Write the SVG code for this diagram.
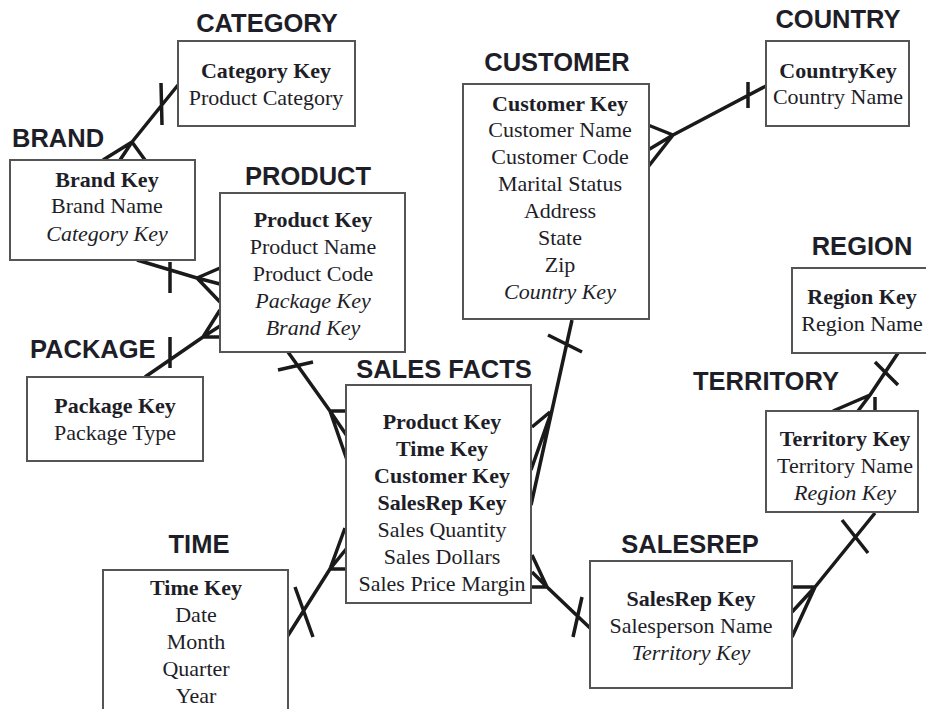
<svg xmlns="http://www.w3.org/2000/svg" width="926" height="709" viewBox="0 0 926 709">
<style>
.box{fill:#fff;stroke:#555;stroke-width:2}
.t{font-family:"Liberation Serif","Times New Roman",serif;font-size:22px;fill:#1e1e28;text-anchor:middle}
.b{font-weight:bold}
.i{font-style:italic}
.h{font-family:"Liberation Sans",Arial,sans-serif;font-size:25.5px;font-weight:bold;fill:#1e1e28}
.c{text-anchor:middle}
.ln{stroke:#1a1a1a;stroke-width:3.5;fill:none;stroke-linecap:butt}
</style>
<rect width="926" height="709" fill="#fff"/>
<g id="connectors" class="ln">
<!-- category-brand -->
<path d="M178,85 L132,142 M132,142 L103,160 M132,142 L120,160 M132,142 L145,160 M161,83 L162,125"/>
<!-- brand-product -->
<path d="M137,260 L197,278 M197,278 L220,268 M197,278 L220,284 M197,278 L220,302 M170,262 L170,293"/>
<!-- package-product -->
<path d="M145,377 L203,337 M203,337 L220,310 M203,337 L220,326 M203,337 L220,337 M170,337 L170,368"/>
<!-- product-sales -->
<path d="M288,352 L330,411 M330,411 L347,411 M330,411 L347,436 M330,411 L347,460 M278,370 L313,362"/>
<!-- customer-sales -->
<path d="M572,320 L531,505 M552,410 L531,470 M550,412 L532,427 M548,335 L582,352"/>
<!-- customer-country -->
<path d="M766,86 L673,135 M673,135 L648,125 M673,135 L648,150 M673,135 L648,167 M748,82 L748,108"/>
<!-- time-sales -->
<path d="M287,637 L330,569 M330,569 L347,569 M330,569 L347,548 M330,569 L345,528 M295,587 L313,637"/>
<!-- sales-salesrep -->
<path d="M590,628 L547,587 M547,587 L532,587 M547,587 L532,572 M547,587 L532,555 M582,597 L573,637"/>
<!-- territory-salesrep -->
<path d="M875,513 L815,587 M815,587 L792,587 M815,587 L792,612 M815,587 L792,637 M842,520 L868,553"/>
<!-- region-territory -->
<path d="M898,353 L870,395 M870,395 L833,411 M870,395 L858,411 M875,397 L875,411 M875,362 L898,385"/>
</g>
<g id="category">
<text class="h c" x="267" y="32">CATEGORY</text>
<rect class="box" x="178" y="41" width="177" height="85"/>
<text class="t b" x="266" y="78">Category Key</text>
<text class="t" x="266" y="105">Product Category</text>
</g>
<g id="brand">
<text class="h" x="12" y="147">BRAND</text>
<rect class="box" x="10" y="160" width="185" height="100"/>
<text class="t b" x="107" y="187">Brand Key</text>
<text class="t" x="107" y="213">Brand Name</text>
<text class="t i" x="107" y="241">Category Key</text>
</g>
<g id="product">
<text class="h c" x="308" y="185">PRODUCT</text>
<rect class="box" x="220" y="193" width="185" height="159"/>
<text class="t b" x="313" y="227">Product Key</text>
<text class="t" x="313" y="254">Product Name</text>
<text class="t" x="313" y="281">Product Code</text>
<text class="t i" x="313" y="308">Package Key</text>
<text class="t i" x="313" y="335">Brand Key</text>
</g>
<g id="package">
<text class="h" x="30" y="358">PACKAGE</text>
<rect class="box" x="27" y="377" width="176" height="84"/>
<text class="t b" x="115" y="413">Package Key</text>
<text class="t" x="115" y="440">Package Type</text>
</g>
<g id="customer">
<text class="h c" x="557" y="71">CUSTOMER</text>
<rect class="box" x="463" y="84" width="186" height="235"/>
<text class="t b" x="560" y="111">Customer Key</text>
<text class="t" x="560" y="137">Customer Name</text>
<text class="t" x="560" y="164">Customer Code</text>
<text class="t" x="560" y="191">Marital Status</text>
<text class="t" x="560" y="218">Address</text>
<text class="t" x="560" y="245">State</text>
<text class="t" x="560" y="272">Zip</text>
<text class="t i" x="560" y="299">Country Key</text>
</g>
<g id="country">
<text class="h c" x="838" y="28">COUNTRY</text>
<rect class="box" x="766" y="41" width="143" height="85"/>
<text class="t b" x="838" y="78">CountryKey</text>
<text class="t" x="838" y="104">Country Name</text>
</g>
<g id="region">
<text class="h c" x="862" y="255">REGION</text>
<rect class="box" x="792" y="268" width="140" height="85"/>
<text class="t b" x="862" y="304">Region Key</text>
<text class="t" x="862" y="331">Region Name</text>
</g>
<g id="territory">
<text class="h" x="693" y="390">TERRITORY</text>
<rect class="box" x="766" y="411" width="152" height="101"/>
<text class="t b" x="845" y="446">Territory Key</text>
<text class="t" x="845" y="473">Territory Name</text>
<text class="t i" x="845" y="500">Region Key</text>
</g>
<g id="salesfacts">
<text class="h c" x="444" y="378">SALES FACTS</text>
<rect class="box" x="346" y="385" width="185" height="218"/>
<text class="t b" x="442" y="429">Product Key</text>
<text class="t b" x="442" y="456">Time Key</text>
<text class="t b" x="442" y="483">Customer Key</text>
<text class="t b" x="442" y="510">SalesRep Key</text>
<text class="t" x="442" y="537">Sales Quantity</text>
<text class="t" x="442" y="564">Sales Dollars</text>
<text class="t" x="442" y="591">Sales Price Margin</text>
</g>
<g id="time">
<text class="h c" x="199" y="553">TIME</text>
<rect class="box" x="103" y="570" width="185" height="150"/>
<text class="t b" x="196" y="595">Time Key</text>
<text class="t" x="196" y="622">Date</text>
<text class="t" x="196" y="649">Month</text>
<text class="t" x="196" y="676">Quarter</text>
<text class="t" x="196" y="703">Year</text>
</g>
<g id="salesrep">
<text class="h c" x="690" y="553">SALESREP</text>
<rect class="box" x="590" y="561" width="202" height="127"/>
<text class="t b" x="691" y="606">SalesRep Key</text>
<text class="t" x="691" y="633">Salesperson Name</text>
<text class="t i" x="691" y="660">Territory Key</text>
</g>
</svg>
